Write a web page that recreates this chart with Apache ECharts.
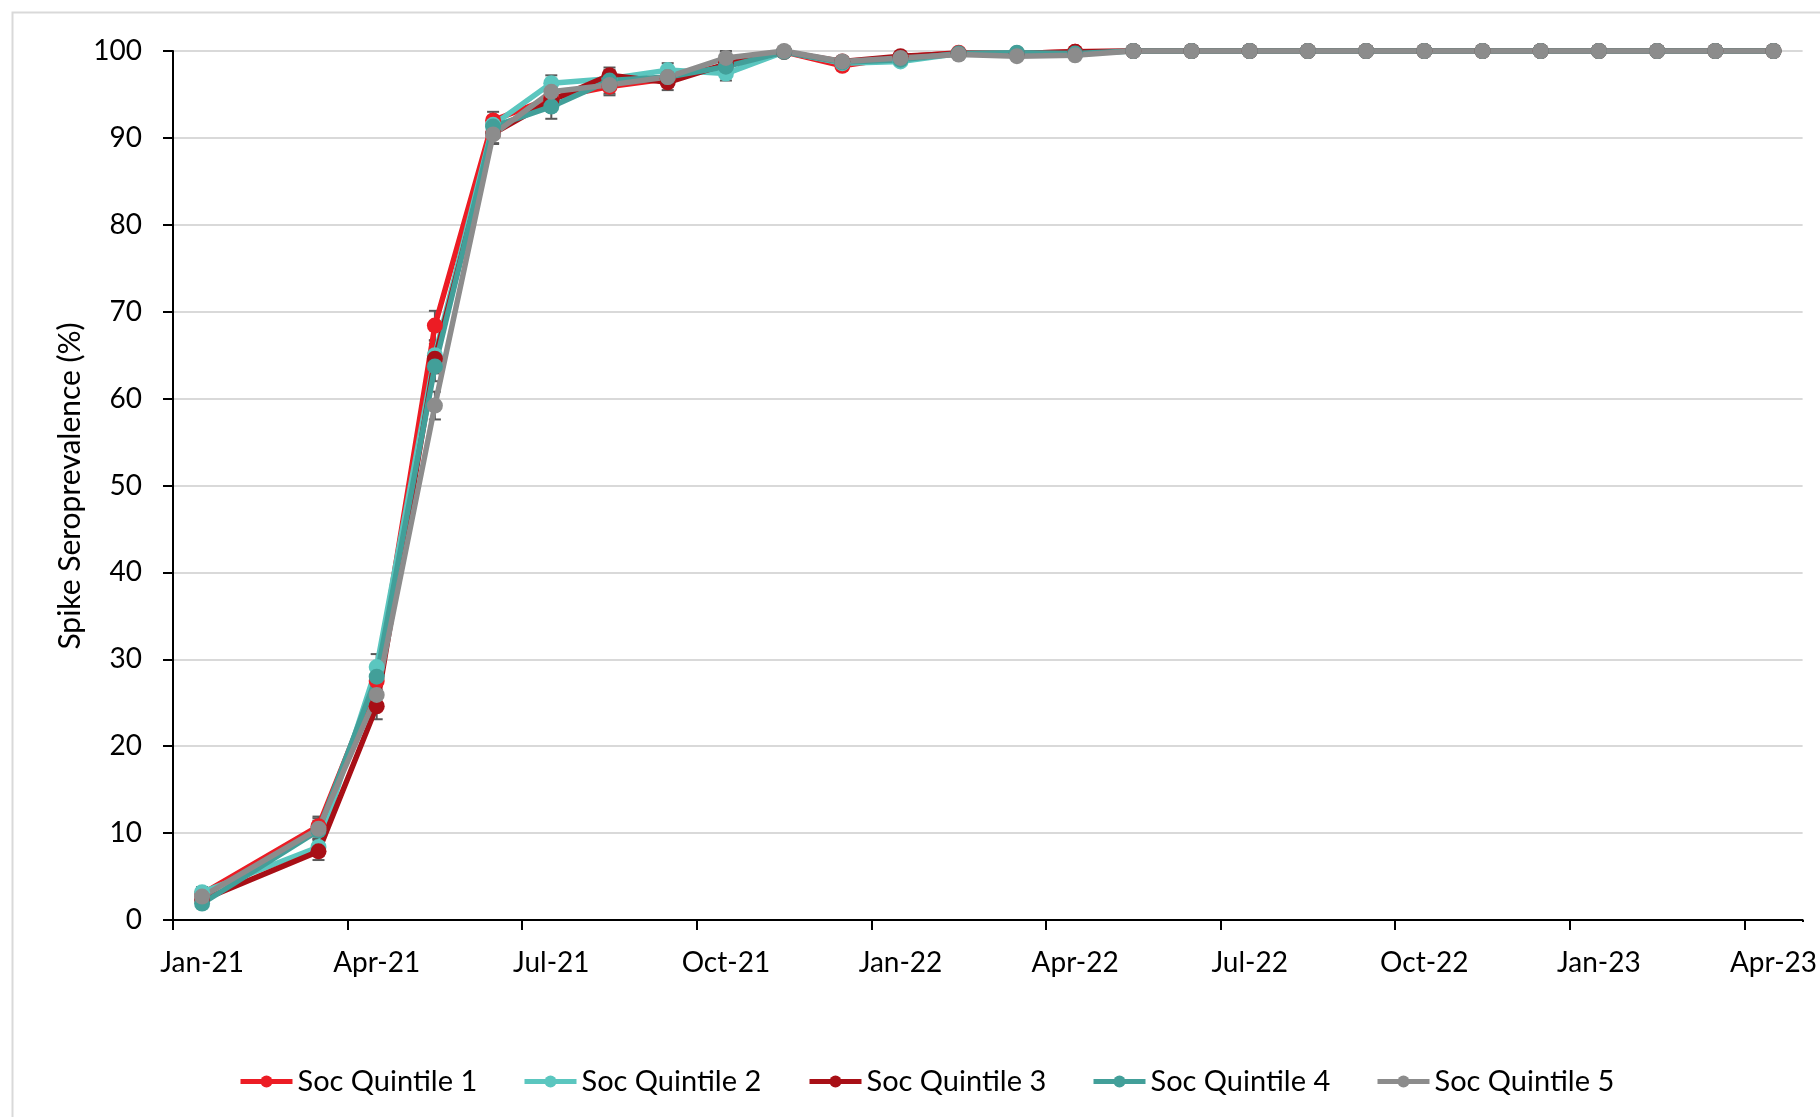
<!DOCTYPE html>
<html>
<head>
<meta charset="utf-8">
<script src="https://cdn.jsdelivr.net/npm/echarts/dist/echarts.min.js"></script>
<style>
html,body{margin:0;padding:0;background:#fff;}
#chart{width:1820px;height:1117px;}
</style>
</head>
<body>
<div id="chart"></div>
<script>
// ---- Data ----
const months = ["Jan-21","Feb-21","Mar-21","Apr-21","May-21","Jun-21","Jul-21","Aug-21","Sep-21","Oct-21","Nov-21","Dec-21",
  "Jan-22","Feb-22","Mar-22","Apr-22","May-22","Jun-22","Jul-22","Aug-22","Sep-22","Oct-22","Nov-22","Dec-22",
  "Jan-23","Feb-23","Mar-23","Apr-23"];
const seriesNames = ["Soc Quintile 1","Soc Quintile 2","Soc Quintile 3","Soc Quintile 4","Soc Quintile 5"];
const q1 = [3.0, null, 10.8, 27.5, 68.4, 92.0, 94.6, 95.9, 96.8, 98.4, 99.9, 98.3, 99.3, 99.8, 99.7, 99.9, 100,100,100,100,100,100,100,100,100,100,100,100];
const q2 = [3.2, null, 8.4, 29.1, 65.0, 91.5, 96.3, 96.8, 97.8, 97.4, 99.9, 98.6, 98.8, 99.7, 99.7, 99.8, 100,100,100,100,100,100,100,100,100,100,100,100];
const q3 = [2.3, null, 7.9, 24.6, 64.6, 90.5, 94.3, 97.2, 96.4, 98.5, 99.9, 98.8, 99.4, 99.7, 99.7, 99.9, 100,100,100,100,100,100,100,100,100,100,100,100];
const q4 = [1.9, null, 10.3, 28.0, 63.7, 91.3, 93.6, 96.6, 97.0, 98.2, 99.9, 98.7, 99.0, 99.7, 99.8, 99.7, 100,100,100,100,100,100,100,100,100,100,100,100];
const q5 = [2.7, null, 10.5, 25.9, 59.2, 90.4, 95.3, 96.1, 97.0, 99.2, 100, 98.8, 99.2, 99.6, 99.4, 99.5, 100,100,100,100,100,100,100,100,100,100,100,100];
// error bar half-widths (95% CI)
const e1 = [0.6, null, 1.1, 1.5, 1.7, 1.0, 1.1, 1.0, 0.9, 0.8, 0.2, 0.5, 0.4, 0.2, 0.3, 0.2];
const e2 = [0.6, null, 1.0, 1.5, 1.7, 1.0, 0.9, 1.0, 0.8, 0.8, 0.2, 0.5, 0.4, 0.2, 0.3, 0.2];
const e3 = [0.5, null, 1.0, 1.5, 1.7, 1.1, 1.1, 0.9, 0.9, 0.8, 0.2, 0.5, 0.4, 0.2, 0.3, 0.2];
const e4 = [0.5, null, 1.1, 1.5, 1.7, 1.1, 1.4, 1.0, 0.9, 0.9, 0.2, 0.5, 0.4, 0.2, 0.3, 0.2];
const e5 = [0.6, null, 1.2, 1.6, 1.6, 1.1, 1.1, 1.0, 0.9, 0.8, 0.2, 0.5, 0.4, 0.2, 0.3, 0.2];
const yTicks = [0,10,20,30,40,50,60,70,80,90,100];

const values = [q1,q2,q3,q4,q5];
const errs = [e1,e2,e3,e4,e5];
const colors = ["#EC1C24","#5BC6BF","#A80F16","#429F99","#8C8C8C"];
const FONT = "Lato";

const chart = echarts.init(document.getElementById('chart'), null, {renderer:'canvas'});

const series = [];
const legendLefts = [238, 522, 807, 1091, 1375];

values.forEach((vals, si) => {
  const errData = [];
  vals.forEach((v, i) => {
    const e = errs[si][i];
    if (v != null && e != null) errData.push([i, v, e]);
  });
  series.push({
    type: 'custom',
    name: seriesNames[si] + ' CI',
    z: 2,
    silent: true,
    renderItem: function (params, api) {
      const x = api.value(0), v = api.value(1), e = api.value(2);
      const lo = Math.max(0, v - e), hi = Math.min(100, v + e);
      const pLo = api.coord([x, lo]);
      const pHi = api.coord([x, hi]);
      const w = 6;
      const st = {stroke: '#595959', lineWidth: 2};
      return {
        type: 'group',
        children: [
          {type:'line', shape:{x1:pLo[0], y1:pLo[1], x2:pHi[0], y2:pHi[1]}, style: st},
          {type:'line', shape:{x1:pLo[0]-w, y1:pLo[1], x2:pLo[0]+w, y2:pLo[1]}, style: st},
          {type:'line', shape:{x1:pHi[0]-w, y1:pHi[1], x2:pHi[0]+w, y2:pHi[1]}, style: st}
        ]
      };
    },
    data: errData
  });
  series.push({
    type: 'line',
    name: seriesNames[si],
    data: vals,
    z: 3,
    connectNulls: true,
    symbol: 'circle',
    symbolSize: 16,
    showAllSymbol: true,
    color: colors[si],
    lineStyle: {width: 5.5, color: colors[si]},
    itemStyle: {color: colors[si]}
  });
});

const legends = seriesNames.map((n, i) => ({
  data: [n],
  left: legendLefts[i],
  top: 1067,
  orient: 'horizontal',
  itemWidth: 52,
  itemHeight: 15,
  itemGap: 6,
  lineStyle: {width: 5},
  textStyle: {fontFamily: FONT, fontSize: 29, color: '#000', padding:[0,0,0,0]},
  padding: 0
}));

const option = {
  animation: false,
  backgroundColor: '#fff',
  legend: legends,
  grid: {left: 173, right: 15, top: 51, bottom: 197, containLabel: false},
  xAxis: {
    type: 'category',
    data: months,
    boundaryGap: true,
    axisLine: {show: true, lineStyle: {color: '#000', width: 2}},
    axisTick: {show: true, interval: 2, alignWithLabel: false, length: 10, lineStyle: {color: '#000', width: 2}},
    axisLabel: {interval: 2, margin: 29, fontFamily: FONT, fontSize: 28, color: '#000'},
    splitLine: {show: false}
  },
  yAxis: {
    type: 'value',
    min: yTicks[0],
    max: yTicks[yTicks.length - 1],
    interval: 10,
    axisLine: {show: true, lineStyle: {color: '#000', width: 2}},
    axisTick: {show: true, length: 10, lineStyle: {color: '#000', width: 2}},
    axisLabel: {margin: 31, fontFamily: FONT, fontSize: 28, color: '#000'},
    splitLine: {show: true, lineStyle: {color: '#D9D9D9', width: 2}}
  },
  graphic: [
    {type: 'rect', left: 10, top: 10, shape: {x: 0, y: 0, width: 1830, height: 1130}, style: {fill: 'none', stroke: '#D9D9D9', lineWidth: 2}, z: -10, silent: true},
    // hide the extra boundary tick ECharts adds at the far end of the category axis
    {type: 'rect', left: 1798, top: 922, shape: {x: 0, y: 0, width: 14, height: 14}, style: {fill: '#fff'}, z: 100, silent: true},
    {type: 'text', x: 70, y: 486, rotation: Math.PI / 2, style: {text: 'Spike Seroprevalence (%)', fontFamily: FONT, fontSize: 30, fill: '#000', textAlign: 'center', textVerticalAlign: 'middle'}, z: 10}
  ],
  series: series
};
chart.setOption(option);
</script>
</body>
</html>
